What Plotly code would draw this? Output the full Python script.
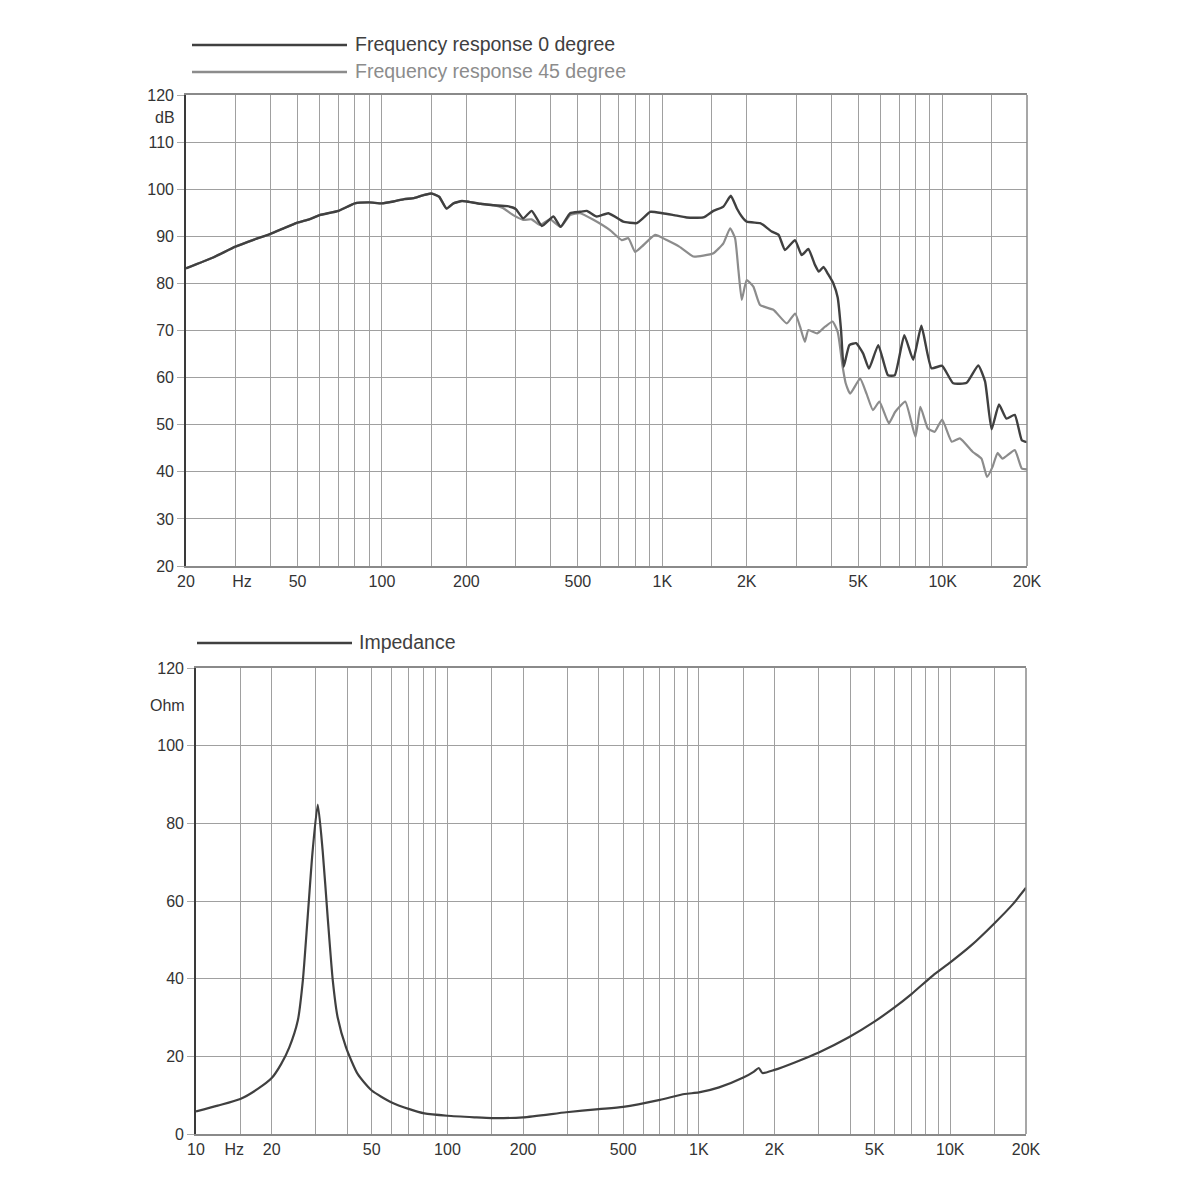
import math
import plotly.graph_objects as go

# ---------------- data ----------------
freq_0 = [20, 25, 30, 35, 40, 45, 50, 55, 60, 70, 80, 90, 100, 110, 120, 130, 140, 150, 160, 170,
          180, 193, 200, 225, 250, 280, 300, 319, 342, 372, 409, 434, 469, 509, 538, 584, 642, 707,
          726, 811, 860, 905, 1004, 1100, 1223, 1401, 1522, 1652, 1756, 1845, 1921, 2000, 2233, 2294,
          2456, 2600, 2740, 2975, 3142, 3320, 3500, 3620, 3760, 3900, 4076, 4224, 4343, 4438, 4650,
          4913, 5208, 5461, 5895, 6383, 6750, 7300, 7854, 8400, 9126, 9960, 10910, 12180, 13400,
          14170, 14950, 15890, 16890, 18090, 19160, 20000]
db_0 = [83.2, 85.5, 87.8, 89.3, 90.5, 91.8, 92.9, 93.6, 94.5, 95.4, 97.0, 97.2, 97.0, 97.4, 97.9, 98.1,
        98.7, 99.1, 98.4, 95.9, 97.0, 97.5, 97.4, 96.9, 96.6, 96.4, 95.8, 93.8, 95.4, 92.2, 94.2, 92.0,
        94.9, 95.2, 95.4, 94.2, 94.9, 93.5, 93.1, 92.8, 94.0, 95.2, 94.9, 94.5, 94.0, 94.0, 95.4, 96.3,
        98.6, 95.9, 94.2, 93.1, 92.8, 92.4, 91.0, 90.3, 87.1, 89.2, 86.0, 87.3, 84.0, 82.5, 83.5, 82.0,
        80.0, 77.0, 70.0, 62.3, 66.9, 67.3, 65.1, 61.9, 66.9, 60.5, 60.5, 69.0, 63.8, 71.0, 62.0, 62.5,
        58.8, 58.9, 62.6, 59.2, 49.0, 54.3, 51.3, 52.1, 46.7, 46.3]

freq_45 = [20, 25, 30, 35, 40, 45, 50, 55, 60, 70, 80, 90, 100, 110, 120, 130, 140, 150, 160, 170,
           180, 193, 200, 225, 250, 270, 294, 319, 342, 366, 398, 434, 469, 509, 568, 651, 717, 757,
           800, 845, 943, 1037, 1150, 1291, 1400, 1522, 1652, 1746, 1818, 1869, 1921, 2000, 2113,
           2233, 2491, 2781, 2977, 3101, 3226, 3320, 3570, 3807, 4050, 4224, 4400, 4511, 4680, 5078,
           5352, 5643, 5950, 6430, 6770, 7360, 8000, 8330, 8860, 9370, 9960, 10780, 11520, 12820,
           13760, 14410, 15080, 15700, 16350, 18090, 19160, 20000]
db_45 = [83.2, 85.5, 87.8, 89.3, 90.5, 91.8, 92.9, 93.6, 94.5, 95.4, 97.0, 97.2, 97.0, 97.4, 97.9, 98.1,
         98.7, 99.1, 98.4, 95.9, 97.0, 97.5, 97.4, 96.9, 96.6, 96.0, 94.5, 93.5, 93.6, 92.4, 93.6, 92.0,
         94.5, 94.9, 93.5, 91.3, 89.2, 89.6, 86.7, 87.8, 90.3, 89.2, 87.8, 85.7, 85.9, 86.4, 88.5, 91.7,
         89.6, 82.8, 76.5, 80.7, 79.3, 75.4, 74.4, 71.5, 73.6, 70.8, 67.6, 70.1, 69.4, 70.8, 71.9, 69.7,
         62.3, 58.8, 56.6, 59.8, 56.6, 53.1, 54.9, 50.3, 52.7, 54.9, 47.4, 53.8, 49.2, 48.5, 51.1, 46.4,
         47.1, 44.2, 42.8, 38.9, 41.1, 44.0, 42.8, 44.6, 40.7, 40.5]

imp_freq = [10, 12.2, 15, 17.6, 20, 21.8, 23.5, 25.4, 26.6, 27.8, 29.1, 30.5, 31.9, 33.4, 35.0, 36.6,
            39.5, 44, 50, 59.7, 70.6, 81, 100, 128, 150, 200, 297, 400, 500, 700, 878, 1000, 1203,
            1510, 1650, 1730, 1790, 2000, 2420, 3000, 3948, 4955, 6000, 7025, 8520, 10000, 12080,
            14890, 17740, 20000]
imp_ohm = [5.8, 7.3, 9.0, 11.6, 14.4, 18.0, 22.3, 29.2, 39.5, 55.8, 72.9, 84.8, 72.9, 55.8, 39.5, 30.0,
           22.3, 15.4, 11.2, 8.2, 6.4, 5.3, 4.7, 4.3, 4.1, 4.3, 5.6, 6.4, 7.0, 8.8, 10.3, 10.7, 12.0,
           14.6, 16.0, 17.0, 15.7, 16.5, 18.5, 21.0, 24.9, 28.8, 32.6, 36.1, 40.8, 44.2, 48.5, 54.1,
           59.2, 63.4]

top_tick_vals = [20, 31.7, 50, 100, 200, 500, 1000, 2000, 5000, 10000, 20000]
top_tick_text = ["20", "Hz", "50", "100", "200", "500", "1K", "2K", "5K", "10K", "20K"]
bot_tick_vals = [10, 14.2, 20, 50, 100, 200, 500, 1000, 2000, 5000, 10000, 20000]
bot_tick_text = ["10", "Hz", "20", "50", "100", "200", "500", "1K", "2K", "5K", "10K", "20K"]
db_ticks = list(range(20, 121, 10))
ohm_ticks = list(range(0, 121, 20))

legend_top = ["Frequency response 0 degree", "Frequency response 45 degree"]
legend_bot = "Impedance"

# ---------------- layout helpers ----------------
W = H = 1184
OFF = 8  # default body margin of the html page


def fx(p):
    return (p - OFF) / W


def fy(p):
    return 1 - (p - OFF) / H


mults = [1, 1.5, 2, 3, 4, 5, 6, 7, 8, 9]
grid_top = [m * d for d in (10, 100, 1000, 10000) for m in mults if 20 <= m * d <= 20000]
grid_bot = [m * d for d in (10, 100, 1000, 10000) for m in mults if 10 <= m * d <= 20000]

FONT = "Liberation Sans, Arial, sans-serif"
DARK = "#404040"
LIGHT = "#8c8c8c"
GRID = "#a0a0a0"
TXT = "#333333"

fig = go.Figure()
fig.add_trace(go.Scatter(x=freq_45, y=db_45, mode="lines",
                         line=dict(color=LIGHT, width=2.2, shape="spline", smoothing=0.45),
                         xaxis="x", yaxis="y", showlegend=False))
fig.add_trace(go.Scatter(x=freq_0, y=db_0, mode="lines",
                         line=dict(color=DARK, width=2.4, shape="spline", smoothing=0.45),
                         xaxis="x", yaxis="y", showlegend=False))
fig.add_trace(go.Scatter(x=imp_freq, y=imp_ohm, mode="lines",
                         line=dict(color=DARK, width=2.2, shape="spline", smoothing=0.6),
                         xaxis="x2", yaxis="y2", showlegend=False))


def xaxis_cfg(dom, rng, tv, tt, gv, anchor):
    return dict(type="log", domain=dom, range=rng, tickmode="array", tickvals=tv, ticktext=tt,
                ticks="", showgrid=False, showline=True, linecolor="#8a8a8a", linewidth=1.5,
                mirror=True, zeroline=False, automargin=False, anchor=anchor,
                tickfont=dict(family=FONT, size=16, color=TXT),
                minor=dict(tickmode="array", tickvals=gv, showgrid=True, gridcolor=GRID,
                           gridwidth=1.4, ticks=""))


def yaxis_cfg(dom, rng, tv, anchor):
    return dict(domain=dom, range=rng, tickmode="array", tickvals=tv, ticks="outside",
                ticklen=7, tickcolor="#aaaaaa", tickwidth=1.2, showgrid=True, gridcolor=GRID,
                gridwidth=1.4, showline=True, linecolor="#3a3a3a", linewidth=1.6, zeroline=False,
                automargin=False, anchor=anchor, tickfont=dict(family=FONT, size=16, color=TXT))


fig.update_layout(
    width=W, height=H, margin=dict(l=0, r=0, t=0, b=0, pad=0, autoexpand=False),
    paper_bgcolor="white", plot_bgcolor="white",
    xaxis=xaxis_cfg([fx(186), fx(1027)], [math.log10(20), math.log10(20000)],
                    top_tick_vals, top_tick_text, grid_top, "y"),
    yaxis=yaxis_cfg([fy(566), fy(95)], [20, 120], db_ticks, "x"),
    xaxis2=xaxis_cfg([fx(196), fx(1026)], [1, math.log10(20000)],
                     bot_tick_vals, bot_tick_text, grid_bot, "y2"),
    yaxis2=yaxis_cfg([fy(1134), fy(668)], [0, 120], ohm_ticks, "x2"),
)

shapes = []
annotations = []
# right borders
for xr, yr in (("x domain", "y domain"), ("x2 domain", "y2 domain")):
    shapes.append(dict(type="line", xref=xr, yref=yr, x0=1, x1=1, y0=0, y1=1,
                       line=dict(color="#8a8a8a", width=1.5)))

# legends
leg = [(legend_top[0], 45, DARK, 192, 347, 353),
       (legend_top[1], 72, LIGHT, 192, 347, 353),
       (legend_bot, 643, DARK, 197, 352, 357)]
for text, yp, col, xa, xb, xt in leg:
    shapes.append(dict(type="line", xref="paper", yref="paper", x0=fx(xa), x1=fx(xb),
                       y0=fy(yp), y1=fy(yp), line=dict(color=col, width=2.6)))
    annotations.append(dict(text=text, xref="paper", yref="paper", x=fx(xt), y=fy(yp - 1),
                            xanchor="left", yanchor="middle", showarrow=False,
                            font=dict(family=FONT, size=19.5, color=col)))

# unit labels
annotations.append(dict(text="dB", xref="paper", yref="paper", x=fx(165), y=fy(118),
                        xanchor="center", yanchor="middle", showarrow=False,
                        font=dict(family=FONT, size=16, color=TXT)))
annotations.append(dict(text="Ohm", xref="paper", yref="paper", x=fx(167), y=fy(706),
                        xanchor="center", yanchor="middle", showarrow=False,
                        font=dict(family=FONT, size=16, color=TXT)))

fig.update_layout(shapes=shapes, annotations=annotations)
fig.write_html("out.html")
